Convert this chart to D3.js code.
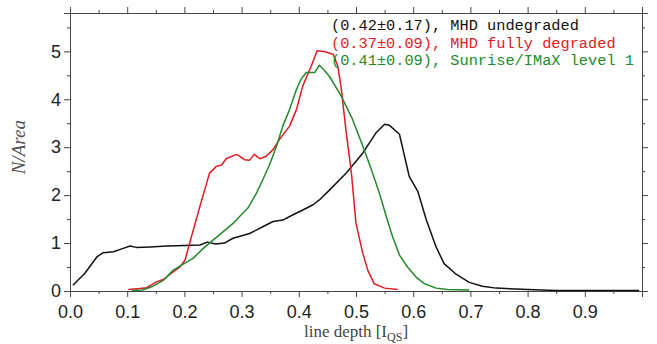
<!DOCTYPE html>
<html>
<head>
<meta charset="utf-8">
<script src="https://cdn.jsdelivr.net/npm/d3@7"></script>
<style>
  body { margin: 0; background: #fff; }
  svg { display: block; }
  .tick text { font-family: "Liberation Sans", Arial, sans-serif; font-size: 18px; fill: #222; }
  .domain, .tick line { stroke: #444; }
</style>
</head>
<body>
<div id="chart"></div>
<script>
// line depth histograms
const undegraded = [
  [0.005, 0.12], [0.026, 0.37], [0.047, 0.71], [0.058, 0.80], [0.076, 0.82], [0.093, 0.89],
  [0.105, 0.94], [0.116, 0.91], [0.14, 0.92], [0.17, 0.94], [0.2, 0.95], [0.227, 0.96],
  [0.24, 1.02], [0.255, 0.98], [0.27, 1.0], [0.285, 1.10], [0.314, 1.20], [0.337, 1.34],
  [0.355, 1.45], [0.372, 1.48], [0.39, 1.59], [0.407, 1.69], [0.425, 1.80], [0.436, 1.90],
  [0.454, 2.11], [0.483, 2.46], [0.512, 2.88], [0.535, 3.30], [0.55, 3.48], [0.558, 3.46],
  [0.576, 3.27], [0.593, 2.39], [0.608, 2.08], [0.623, 1.48], [0.64, 0.92], [0.654, 0.57],
  [0.675, 0.35], [0.698, 0.18], [0.721, 0.10], [0.745, 0.06], [0.78, 0.04], [0.8, 0.03],
  [0.85, 0.01], [0.9, 0.01], [0.95, 0.01], [0.995, 0.01]
];
const degraded = [
  [0.102, 0.03], [0.122, 0.05], [0.134, 0.07], [0.151, 0.19], [0.163, 0.24], [0.175, 0.35],
  [0.192, 0.50], [0.201, 0.64], [0.209, 0.99], [0.227, 1.76], [0.244, 2.46], [0.256, 2.60],
  [0.265, 2.63], [0.273, 2.76], [0.291, 2.85], [0.297, 2.81], [0.305, 2.74], [0.314, 2.73],
  [0.322, 2.85], [0.332, 2.76], [0.343, 2.81], [0.355, 2.95], [0.366, 3.16], [0.384, 3.44],
  [0.396, 3.79], [0.407, 4.28], [0.422, 4.70], [0.432, 5.01], [0.446, 4.99], [0.46, 4.94],
  [0.468, 4.70], [0.474, 4.25], [0.483, 3.30], [0.492, 2.46], [0.5, 1.41], [0.512, 0.78],
  [0.521, 0.42], [0.532, 0.15], [0.55, 0.06], [0.573, 0.03]
];
const imax = [
  [0.108, 0.01], [0.127, 0.02], [0.145, 0.10], [0.163, 0.22], [0.18, 0.43], [0.198, 0.56],
  [0.215, 0.68], [0.233, 0.89], [0.25, 1.06], [0.268, 1.24], [0.285, 1.41], [0.302, 1.62],
  [0.311, 1.73], [0.326, 2.04], [0.337, 2.32], [0.349, 2.64], [0.361, 3.02], [0.372, 3.44],
  [0.384, 3.79], [0.396, 4.21], [0.404, 4.42], [0.413, 4.56], [0.428, 4.56], [0.436, 4.71],
  [0.445, 4.60], [0.454, 4.47], [0.474, 4.07], [0.494, 3.58], [0.512, 3.02], [0.527, 2.53],
  [0.541, 2.04], [0.553, 1.55], [0.564, 1.13], [0.576, 0.75], [0.59, 0.50], [0.605, 0.29],
  [0.62, 0.15], [0.64, 0.06], [0.66, 0.03], [0.698, 0.02]
];

const seriesNames = ["(0.42\u00b10.17), MHD undegraded", "(0.37\u00b10.09), MHD fully degraded", "(0.41\u00b10.09), Sunrise/IMaX level 1"];
const seriesColors = ["#111111", "#e01b24", "#23892a"];
const xTicks = [0, 0.1, 0.2, 0.3, 0.4, 0.5, 0.6, 0.7, 0.8, 0.9];
const yTicks = [0, 1, 2, 3, 4, 5];

const config = {
  width: 657, height: 344,
  margin: {top: 13, right: 15, bottom: 53, left: 70}
};
const w = config.width - config.margin.left - config.margin.right;
const h = config.height - config.margin.top - config.margin.bottom;

const svg = d3.select('#chart').append('svg')
  .attr('width', config.width)
  .attr('height', config.height);
const g = svg.append('g')
  .attr('transform', `translate(${config.margin.left},${config.margin.top})`);

const x = d3.scaleLinear().domain([0, 1]).range([0, w]);
const y = d3.scaleLinear().domain([0, 5.8]).range([h, 0]);

const minorX = d3.range(0.05, 1, 0.1);
const minorY = d3.range(0.5, 5.8, 1);

// major axes
g.append('g').attr('transform', `translate(0,${h})`)
  .call(d3.axisBottom(x).tickValues(xTicks).tickFormat(d3.format('.1f')).tickSize(6).tickPadding(8));
g.append('g')
  .call(d3.axisTop(x).tickValues(xTicks.concat([1])).tickFormat('').tickSize(6));
g.append('g')
  .call(d3.axisLeft(y).tickValues(yTicks).tickFormat(d3.format('d')).tickSize(6).tickPadding(3));
g.append('g').attr('transform', `translate(${w},0)`)
  .call(d3.axisRight(y).tickValues(yTicks).tickFormat('').tickSize(6));

// minor ticks
g.append('g').attr('transform', `translate(0,${h})`)
  .call(d3.axisBottom(x).tickValues(minorX).tickFormat('').tickSize(3));
g.append('g')
  .call(d3.axisTop(x).tickValues(minorX).tickFormat('').tickSize(3));
g.append('g')
  .call(d3.axisLeft(y).tickValues(minorY).tickFormat('').tickSize(3));
g.append('g').attr('transform', `translate(${w},0)`)
  .call(d3.axisRight(y).tickValues(minorY).tickFormat('').tickSize(3));

// curves
const line = d3.line().x(d => x(d[0])).y(d => y(d[1]));
[undegraded, degraded, imax].forEach((data, i) => {
  g.append('path')
    .datum(data)
    .attr('fill', 'none')
    .attr('stroke', seriesColors[i])
    .attr('stroke-width', 1.5)
    .attr('stroke-linejoin', 'round')
    .attr('d', line);
});

// legend
g.append('g').selectAll('text')
  .data(seriesNames)
  .join('text')
  .attr('x', 261)
  .attr('y', (d, i) => 17 + i * 17.5)
  .attr('fill', (d, i) => seriesColors[i])
  .style('font-family', '"Liberation Mono", "Courier New", monospace')
  .style('font-size', '15.3px')
  .text(d => d);

// axis titles
const xt = g.append('text')
  .attr('x', w / 2)
  .attr('y', h + 46)
  .attr('text-anchor', 'middle')
  .attr('fill', '#444')
  .style('font-family', '"Liberation Serif", "Times New Roman", serif')
  .style('font-size', '17px');
xt.append('tspan').text('line depth [I');
xt.append('tspan').attr('dy', 4).style('font-size', '12px').text('QS');
xt.append('tspan').attr('dy', -4).text(']');

g.append('text')
  .attr('transform', `translate(${-45},${y(3)}) rotate(-90)`)
  .attr('text-anchor', 'middle')
  .attr('fill', '#555')
  .style('font-family', '"Liberation Serif", "Times New Roman", serif')
  .style('font-style', 'italic')
  .style('font-size', '19px')
  .text('N/Area');
</script>
</body>
</html>
